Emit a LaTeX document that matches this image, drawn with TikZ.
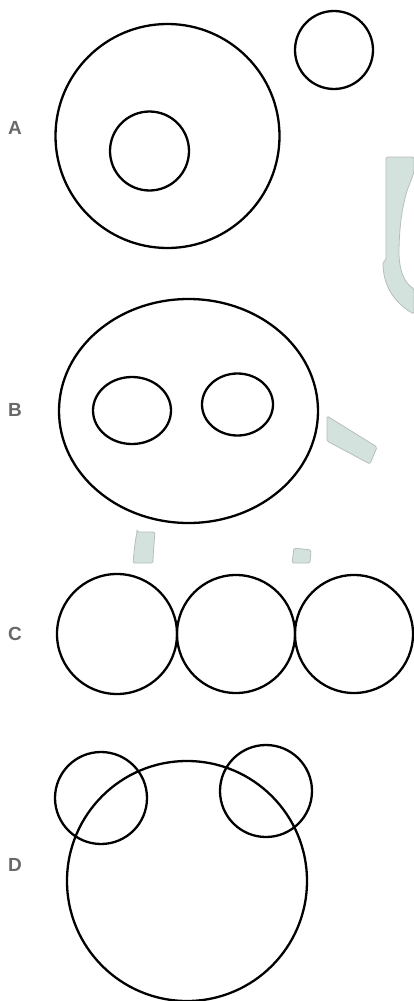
\documentclass[tikz,border=0pt]{standalone}
\usepackage{fontspec}
\setmainfont{Liberation Sans}
\begin{document}
\begin{tikzpicture}[x=1pt,y=-1pt,
  shape line/.style={line width=2.3pt,black},
  lbl/.style={font=\fontsize{19}{21}\selectfont\bfseries,text={rgb,255:red,105;green,105;blue,105},inner sep=0pt,anchor=center},
  wm/.style={fill={rgb,255:red,212;green,226;blue,221},draw={rgb,255:red,182;green,190;blue,187},line width=0.8pt,rounded corners=1.5pt}]
\useasboundingbox (0,0) rectangle (414,1001);
\fill[white] (0,0) rectangle (414,1001);
% watermark pieces
\path[wm] (386,157) -- (414,157) -- (414,172) -- (410,183) .. controls (403,200) and (399,225) .. (399,255)
  .. controls (400,273) and (405,283) .. (414,289) -- (414,314)
  .. controls (396,304) and (383,287) .. (383,262) -- (386,260) -- cycle;
\path[wm] (327,416) -- (377,447) -- (370,464) -- (327,441) -- cycle;
\path[wm] (137,532) -- (155,532) .. controls (154,545) and (153,555) .. (153,563) -- (133,563) .. controls (134,552) and (135,542) .. cycle;
\path[wm] (294,548) -- (311,550) -- (310,563) -- (292,563) -- cycle;
% A
\draw[shape line] (167.5,136) circle[radius=112];
\draw[shape line] (149.5,151) circle[radius=39.5];
\draw[shape line] (334,50) circle[radius=39];
\node[lbl] (la) at (15,128) {A};
% B
\draw[shape line] (188.5,411) ellipse[x radius=129.5,y radius=112];
\draw[shape line] (132,410.5) ellipse[x radius=39,y radius=33.5];
\draw[shape line] (237.5,404.5) ellipse[x radius=35.5,y radius=31];
\node[lbl] (lb) at (15,410) {B};
% C
\draw[shape line] (117,634) circle[radius=60];
\draw[shape line] (236,634) circle[radius=59];
\draw[shape line] (354,634) circle[radius=59];
\node[lbl] (lc) at (15,634) {C};
% D
\draw[shape line] (187,881) circle[radius=120];
\draw[shape line] (101,798) circle[radius=46];
\draw[shape line] (266,791) circle[radius=46];
\node[lbl] (ld) at (15,865) {D};
\end{tikzpicture}
\end{document}
